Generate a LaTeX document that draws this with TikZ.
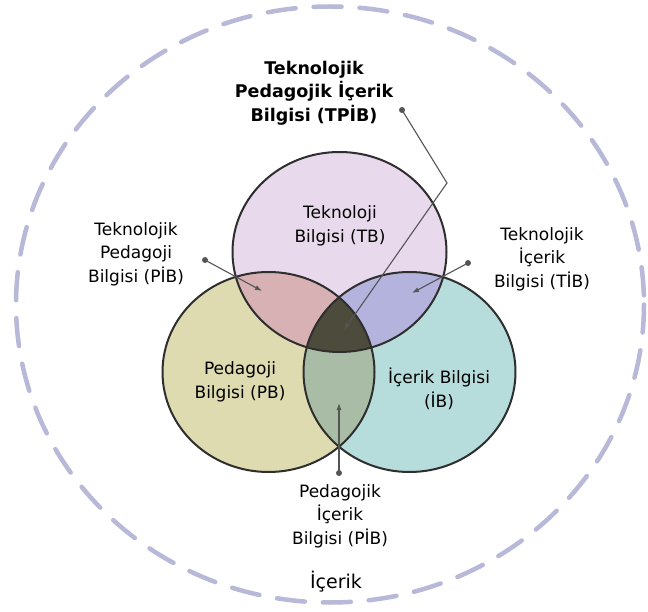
\documentclass[tikz,border=0pt]{standalone}
\usepackage{fontspec}
\setmainfont{DejaVu Sans}
\usetikzlibrary{arrows.meta}
\definecolor{cT}{HTML}{E9D9EC}
\definecolor{cL}{HTML}{DEDBB0}
\definecolor{cR}{HTML}{B7DCDC}
\definecolor{cTL}{HTML}{D7B1B3}
\definecolor{cTR}{HTML}{B3B3DE}
\definecolor{cLR}{HTML}{A9BDA6}
\definecolor{cTLR}{HTML}{4D4C3C}
\definecolor{rim}{HTML}{2E2E2E}
\definecolor{outer}{HTML}{B8B8D8}
\definecolor{conn}{HTML}{555555}
\begin{document}
\begin{tikzpicture}[x=1pt,y=-1pt,
  lab/.style={align=center,inner sep=0pt,font=\fontsize{17}{23.5}\selectfont,text=black},
  boldlab/.style={align=center,inner sep=0pt,font=\fontsize{17.5}{23.5}\selectfont\bfseries,text=black},
  bigword/.style={inner sep=0pt,font=\fontsize{19}{23}\selectfont,text=black},
  rimline/.style={draw=rim,line width=2pt},
  connline/.style={draw=conn,line width=1.1pt},
  tip/.style={-{Latex[length=7pt,width=5pt]}},
  dot/.style={fill=conn}
]
\useasboundingbox (0,0) rectangle (648,612);
\fill[white] (0,0) rectangle (648,612);

% outer dashed ring
\draw[outer, line width=4.5pt, line cap=round, dash pattern=on 28pt off 18pt]
  (330,304.5) ellipse [x radius=314, y radius=298];

% circle fills
\def\ET{(339.5,252) ellipse [x radius=107, y radius=100]}
\def\EL{(268.5,372) ellipse [x radius=106, y radius=100]}
\def\ER{(409.5,372) ellipse [x radius=106, y radius=100]}
\fill[cT] \ET;
\fill[cL] \EL;
\fill[cR] \ER;
\begin{scope}\clip \ET; \fill[cTL] \EL; \fill[cTR] \ER; \end{scope}
\begin{scope}\clip \EL; \fill[cLR] \ER; \end{scope}
\begin{scope}\clip \ET; \clip \EL; \fill[cTLR] \ER; \end{scope}
\draw[rimline] \ET;
\draw[rimline] \EL;
\draw[rimline] \ER;

% labels
\node[boldlab] (tpib) at (314,93) {Teknolojik\\Pedagojik İçerik\\Bilgisi (TPİB)};
\node[lab] (tb) at (340,226) {Teknoloji\\Bilgisi (TB)};
\node[lab] (tpb) at (136,254) {Teknolojik\\Pedagoji\\Bilgisi (PİB)};
\node[lab] (tib) at (542,259) {Teknolojik\\İçerik\\Bilgisi (TİB)};
\node[lab] (pb) at (240,382) {Pedagoji\\Bilgisi (PB)};
\node[lab] (ib) at (439,389) {İçerik Bilgisi\\(İB)};
\node[lab] (pib) at (340,516) {Pedagojik\\İçerik\\Bilgisi (PİB)};
\node[bigword] (icerik) at (336,582) {İçerik};

% connectors
\coordinate (d1) at (402,110);
\coordinate (b1) at (447,183);
\coordinate (t1) at (344,330);
\coordinate (d2) at (205,260);
\coordinate (t2) at (262,291);
\coordinate (d3) at (468,263);
\coordinate (t3) at (412,293);
\coordinate (d4) at (339,473);
\coordinate (t4) at (339,403);
\draw[connline,tip] (d1) -- (b1) -- (t1);
\draw[connline,tip] (d2) -- (t2);
\draw[connline,tip] (d3) -- (t3);
\draw[connline,tip] (d4) -- (t4);
\foreach \p in {d1,d2,d3,d4} \fill[dot] (\p) circle [radius=3];
\end{tikzpicture}
\end{document}
